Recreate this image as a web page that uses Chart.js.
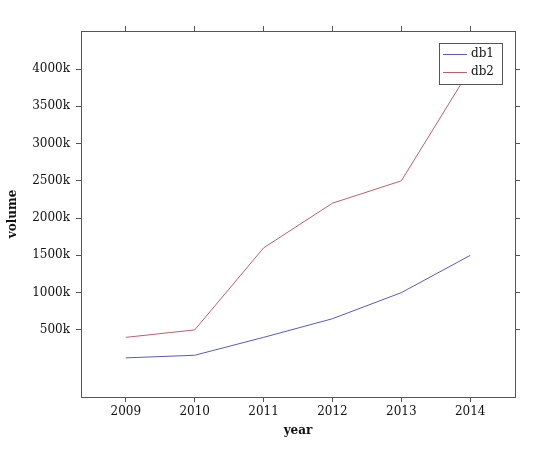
<!DOCTYPE html>
<html><head><meta charset="utf-8">
<script src="https://cdn.jsdelivr.net/npm/chart.js@4/dist/chart.umd.min.js"></script>
<style>html,body{margin:0;padding:0;background:#fff;}canvas{display:block;}</style>
</head><body>
<canvas id="c" width="540" height="452"></canvas>
<script>
const years = [2009, 2010, 2011, 2012, 2013, 2014];
const db1 = [125000, 160000, 400000, 650000, 1000000, 1500000];
const db2 = [400000, 500000, 1600000, 2200000, 2500000, 4000000];
const yTicks = [500000, 1000000, 1500000, 2000000, 2500000, 3000000, 3500000, 4000000];
const seriesLabels = ['db1', 'db2'];
const seriesColors = ['#5a5ab8', '#b8606e'];

const FONT = 'DejaVu Serif';
const AX = '#555555';

const legendPlugin = {
  id: 'insideLegend',
  afterDraw(chart) {
    const ctx = chart.ctx, ca = chart.chartArea;
    const w = 63, h = 41;
    const x0 = ca.right - 13 - w, y0 = ca.top + 12;
    ctx.save();
    ctx.fillStyle = '#fff';
    ctx.fillRect(x0, y0, w, h);
    ctx.strokeStyle = AX; ctx.lineWidth = 1;
    ctx.strokeRect(x0 + 0.5, y0 + 0.5, w, h);
    ctx.font = '12px "' + FONT + '"';
    ctx.textBaseline = 'middle';
    chart.data.datasets.forEach((ds, i) => {
      const cy = y0 + 11 + i * 18;
      ctx.strokeStyle = ds.borderColor; ctx.lineWidth = 1;
      ctx.beginPath(); ctx.moveTo(x0 + 4, cy + 0.5); ctx.lineTo(x0 + 28, cy + 0.5); ctx.stroke();
      ctx.fillStyle = '#111';
      ctx.fillText(ds.label, x0 + 32, cy);
    });
    ctx.restore();
  }
};

const pts = arr => years.map((y, i) => ({x: y, y: arr[i]}));

new Chart(document.getElementById('c'), {
  type: 'line',
  data: {
    datasets: [
      {label: seriesLabels[0], data: pts(db1), borderColor: seriesColors[0], borderWidth: 1, pointRadius: 0, tension: 0, fill: false},
      {label: seriesLabels[1], data: pts(db2), borderColor: seriesColors[1], borderWidth: 1, pointRadius: 0, tension: 0, fill: false}
    ]
  },
  options: {
    responsive: false,
    animation: false,
    devicePixelRatio: 1,
    layout: {padding: 0},
    plugins: {legend: {display: false}, tooltip: {enabled: false}},
    scales: {
      x: {
        type: 'linear', position: 'bottom', min: 2008.35, max: 2014.65,
        afterBuildTicks: s => { s.ticks = years.map(v => ({value: v})); },
        afterFit: s => { s.height = 55; },
        ticks: {color: '#111', font: {family: FONT, size: 12}, padding: 3, maxRotation: 0, callback: v => String(v)},
        grid: {drawOnChartArea: false, drawTicks: true, tickLength: 5, color: AX},
        border: {display: true, color: AX, width: 1},
        title: {display: true, text: 'year', color: '#111', font: {family: FONT, size: 12, weight: 'bold'}, padding: {top: 0, bottom: 14}}
      },
      x2: {
        type: 'linear', position: 'top', min: 2008.35, max: 2014.65,
        afterBuildTicks: s => { s.ticks = years.map(v => ({value: v})); },
        afterFit: s => { s.height = 31; },
        ticks: {display: false},
        grid: {drawOnChartArea: false, drawTicks: true, tickLength: 5, color: AX},
        border: {display: true, color: AX, width: 1}
      },
      y: {
        type: 'linear', position: 'left', min: -400000, max: 4510000,
        afterBuildTicks: s => { s.ticks = yTicks.map(v => ({value: v})); },
        afterFit: s => { s.width = 81; },
        ticks: {color: '#111', font: {family: FONT, size: 12}, padding: 6, callback: v => (v / 1000) + 'k'},
        grid: {drawOnChartArea: false, drawTicks: true, tickLength: 5, color: AX},
        border: {display: true, color: AX, width: 1},
        title: {display: true, text: 'volume', color: '#111', font: {family: FONT, size: 12, weight: 'bold'}, padding: {top: 6, bottom: 0}}
      },
      y2: {
        type: 'linear', position: 'right', min: -400000, max: 4510000,
        afterBuildTicks: s => { s.ticks = yTicks.map(v => ({value: v})); },
        afterFit: s => { s.width = 25; },
        ticks: {display: false},
        grid: {drawOnChartArea: false, drawTicks: true, tickLength: 5, color: AX},
        border: {display: true, color: AX, width: 1}
      }
    }
  },
  plugins: [legendPlugin]
});
</script>
</body></html>
